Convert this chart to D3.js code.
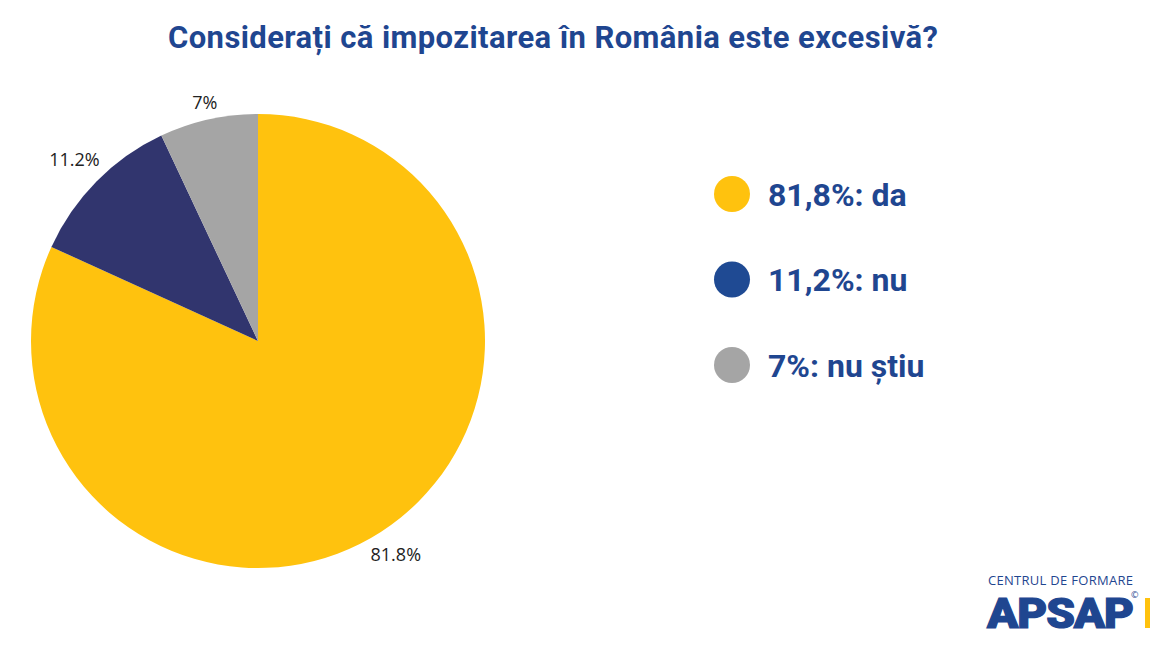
<!doctype html>
<html>
  <head>
    <script src="https://cdnjs.cloudflare.com/ajax/libs/d3/7.8.5/d3.min.js"></script>
    <style>
      body { margin: 0; background: #fff; }
    </style>
  </head>
  <body>
    <svg width="1150" height="647"></svg>
    <script>
        var answers = ["da", "nu", "nu știu"];
        var shares = [81.8, 11.2, 7];
        var sliceLabels = ["81.8%", "11.2%", "7%"];
        var legendLabels = ["81,8%: da", "11,2%: nu", "7%: nu știu"];
        var sliceColours = ["#FFC20E", "#31356E", "#A5A5A5"];
        var legendColours = ["#FFC20E", "#1F4A93", "#A5A5A5"];

        var svg = d3.select("svg");

        svg.append("text")
            .attr("x", 553)
            .attr("y", 48)
            .attr("text-anchor", "middle")
            .attr("textLength", 770)
            .style("font-family", "Roboto")
            .style("font-weight", "bold")
            .style("font-size", "31px")
            .style("fill", "#1F4690")
            .text("Considerați că impozitarea în România este excesivă?");

        var pie = d3.pie().sort(null).value(d => d);
        var slices = pie(shares);

        var arc = d3.arc().innerRadius(0).outerRadius(227);

        var g = svg.append("g").attr("transform", "translate(258,341)");

        g.selectAll("path")
            .data(slices)
            .enter()
            .append("path")
                .attr("d", arc)
                .style("fill", (d, i) => sliceColours[i]);

        // labels sit just outside the rim, pushed out along the mid angle by their box size
        var labels = g.selectAll("text")
            .data(slices)
            .enter()
            .append("text")
                .attr("text-anchor", "middle")
                .attr("dy", "0.35em")
                .style("font-family", "Open Sans")
                .style("font-size", "18px")
                .style("fill", "#222")
                .text((d, i) => sliceLabels[i]);

        labels.attr("transform", function(d) {
            var a = (d.startAngle + d.endAngle) / 2;
            var box = this.getBBox();
            var dist = 232 + 1.1 * box.width / 2 * Math.abs(Math.sin(a)) + 9 * Math.abs(Math.cos(a));
            return "translate(" + dist * Math.sin(a) + "," + (-dist * Math.cos(a)) + ")";
        });

        var legendY = d3.scalePoint().domain(answers).range([194, 365]);

        var legend = svg.append("g")
            .selectAll("g")
            .data(answers)
            .enter()
            .append("g")
                .attr("transform", d => "translate(732," + legendY(d) + ")");

        legend.append("circle")
            .attr("r", 18)
            .style("fill", (d, i) => legendColours[i]);

        legend.append("text")
            .attr("x", 36)
            .attr("dy", "0.36em")
            .style("font-family", "Roboto")
            .style("font-weight", "bold")
            .style("font-size", "32px")
            .style("fill", "#1F4690")
            .text((d, i) => legendLabels[i]);

        // logo
        var logo = svg.append("g");
        logo.append("text")
            .attr("x", 988)
            .attr("y", 585)
            .attr("textLength", 145)
            .style("font-family", "Open Sans")
            .style("font-size", "13px")
            .style("fill", "#1F4690")
            .text("CENTRUL DE FORMARE");
        logo.append("text")
            .attr("x", 987)
            .attr("y", 628)
            .attr("textLength", 146)
            .attr("lengthAdjust", "spacingAndGlyphs")
            .style("font-family", "Roboto")
            .style("font-weight", "900")
            .style("font-size", "42px")
            .style("letter-spacing", "-1px")
            .style("fill", "#1F4690")
            .style("stroke", "#1F4690")
            .style("stroke-width", "1.2px")
            .text("APSAP");
        logo.append("text")
            .attr("x", 1131)
            .attr("y", 598)
            .style("font-family", "Open Sans")
            .style("font-size", "9px")
            .style("fill", "#1F4690")
            .text("©");
        logo.append("rect")
            .attr("x", 1145)
            .attr("y", 598)
            .attr("width", 6)
            .attr("height", 30)
            .style("fill", "#FFC20E");
    </script>
  </body>
</html>
